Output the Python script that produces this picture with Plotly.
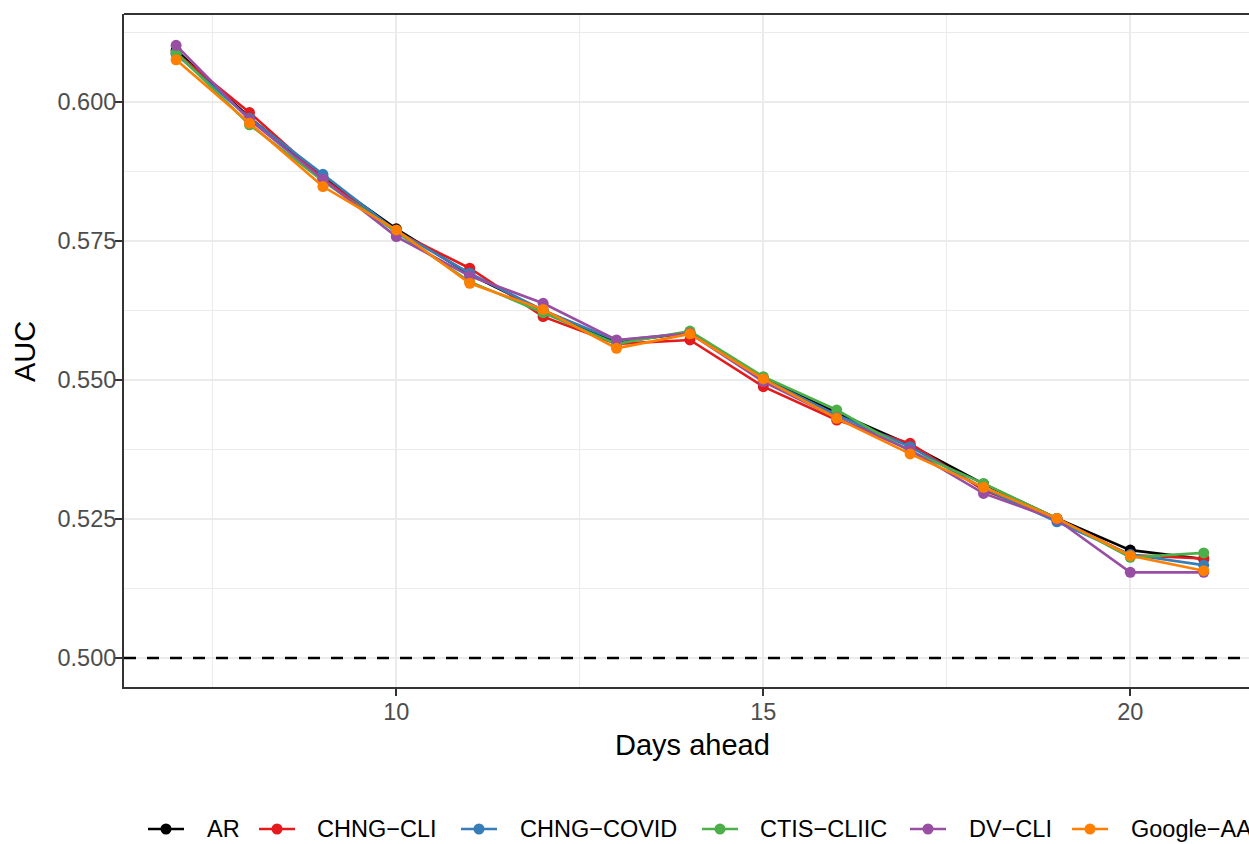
import plotly.graph_objects as go

# Forecast horizon (days ahead)
days = list(range(7, 22))

# AUC by indicator
ar          = [0.6093, 0.5972, 0.5865, 0.5772, 0.5690, 0.5625, 0.5568, 0.5585, 0.5503, 0.5441, 0.5383, 0.5313, 0.5251, 0.5194, 0.5178]
chng_cli    = [0.6088, 0.5981, 0.5863, 0.5767, 0.5701, 0.5614, 0.5565, 0.5572, 0.5488, 0.5428, 0.5386, 0.5302, 0.5250, 0.5185, 0.5179]
chng_covid  = [0.6086, 0.5971, 0.5870, 0.5768, 0.5692, 0.5625, 0.5571, 0.5585, 0.5502, 0.5437, 0.5380, 0.5305, 0.5245, 0.5186, 0.5167]
ctis_cliic  = [0.6089, 0.5959, 0.5858, 0.5766, 0.5677, 0.5621, 0.5565, 0.5588, 0.5506, 0.5446, 0.5372, 0.5314, 0.5251, 0.5181, 0.5189]
dv_cli      = [0.6102, 0.5968, 0.5861, 0.5758, 0.5687, 0.5638, 0.5572, 0.5584, 0.5497, 0.5432, 0.5374, 0.5296, 0.5249, 0.5154, 0.5154]
google_aa   = [0.6076, 0.5962, 0.5848, 0.5770, 0.5674, 0.5627, 0.5557, 0.5583, 0.5502, 0.5431, 0.5367, 0.5307, 0.5251, 0.5184, 0.5157]

series_names = ["AR", "CHNG−CLI", "CHNG−COVID", "CTIS−CLIIC", "DV−CLI", "Google−AA"]
series_values = [ar, chng_cli, chng_covid, ctis_cliic, dv_cli, google_aa]
series_colors = ["#000000", "#E41A1C", "#377EB8", "#4DAF4A", "#984EA3", "#FF7F00"]

FONT = "Liberation Sans, Arial, sans-serif"
W, H = 1249, 844
ML, MT, MB = 124, 14, 157
PW = W - ML
PH = H - MT - MB

fig = go.Figure()
for name, vals, col in zip(series_names, series_values, series_colors):
    fig.add_trace(go.Scatter(
        x=days, y=vals, name=name, mode="lines+markers",
        line=dict(color=col, width=2.6),
        marker=dict(color=col, size=11, line=dict(width=0)),
        showlegend=False,
    ))

def px_x(p):
    return (p - ML) / PW

def px_y(p):
    return (MT + PH - p) / PH

shapes = [
    # reference line at AUC = 0.5
    dict(type="line", xref="paper", yref="y", x0=0, x1=1, y0=0.5, y1=0.5,
         line=dict(color="black", width=2.6, dash="12px,11px"), layer="above"),
    # panel border (top)
    dict(type="line", xref="paper", yref="paper", x0=0, x1=1, y0=1, y1=1,
         line=dict(color="#333333", width=2), layer="above"),
]

annotations = [
    dict(text="Days ahead", xref="paper", yref="paper", x=px_x(692), y=px_y(745),
         showarrow=False, xanchor="center", yanchor="middle",
         font=dict(family=FONT, size=29, color="black")),
    dict(text="AUC", xref="paper", yref="paper", x=px_x(25), y=px_y(352),
         showarrow=False, xanchor="center", yanchor="middle", textangle=-90,
         font=dict(family=FONT, size=29, color="black")),
]

# bottom legend: key line + dot, followed by label
legend_key_left = [148, 259, 461, 702, 910, 1072]
legend_text_left = [205, 315, 518, 758, 967, 1129]
ly = px_y(829)
for name, col, kx, tx in zip(series_names, series_colors, legend_key_left, legend_text_left):
    shapes.append(dict(type="line", xref="paper", yref="paper",
                       x0=px_x(kx), x1=px_x(kx + 36), y0=ly, y1=ly,
                       line=dict(color=col, width=2.6), layer="above"))
    shapes.append(dict(type="circle", xref="paper", yref="paper",
                       xsizemode="pixel", ysizemode="pixel",
                       xanchor=px_x(kx + 18), yanchor=ly,
                       x0=-5.5, x1=5.5, y0=-5.5, y1=5.5,
                       fillcolor=col, line=dict(width=0), layer="above"))
    annotations.append(dict(text=name, xref="paper", yref="paper",
                            x=px_x(tx), y=ly, showarrow=False,
                            xanchor="left", yanchor="middle",
                            font=dict(family=FONT, size=23.5, color="black")))

x0 = 6.29
x1 = x0 + PW / 73.4

fig.update_layout(
    width=W, height=H,
    margin=dict(l=ML, r=0, t=MT, b=MB, pad=0),
    paper_bgcolor="white", plot_bgcolor="white",
    font=dict(family=FONT, color="#4D4D4D"),
    shapes=shapes, annotations=annotations,
    showlegend=False,
    xaxis=dict(
        range=[x0, x1], tickmode="array", tickvals=[10, 15, 20],
        ticktext=["10", "15", "20"],
        showgrid=True, gridcolor="#EBEBEB", gridwidth=2.4,
        minor=dict(tickmode="array", tickvals=[7.5, 12.5, 17.5],
                   showgrid=True, gridcolor="#EBEBEB", gridwidth=1.2, ticks=""),
        zeroline=False, showline=True, linecolor="#333333", linewidth=2,
        ticks="outside", ticklen=7, tickwidth=2, tickcolor="#333333",
        ticklabelstandoff=-4,
        tickfont=dict(family=FONT, size=23.5, color="#4D4D4D"),
    ),
    yaxis=dict(
        range=[0.49478, 0.61583], tickmode="array",
        tickvals=[0.500, 0.525, 0.550, 0.575, 0.600],
        ticktext=["0.500", "0.525", "0.550", "0.575", "0.600"],
        showgrid=True, gridcolor="#EBEBEB", gridwidth=2.4,
        minor=dict(tickmode="array", tickvals=[0.5125, 0.5375, 0.5625, 0.5875, 0.6125],
                   showgrid=True, gridcolor="#EBEBEB", gridwidth=1.2, ticks=""),
        zeroline=False, showline=True, linecolor="#333333", linewidth=2,
        ticks="outside", ticklen=7, tickwidth=2, tickcolor="#333333",
        ticklabelstandoff=-6,
        tickfont=dict(family=FONT, size=23.5, color="#4D4D4D"),
    ),
)

fig.write_html("out.html")
